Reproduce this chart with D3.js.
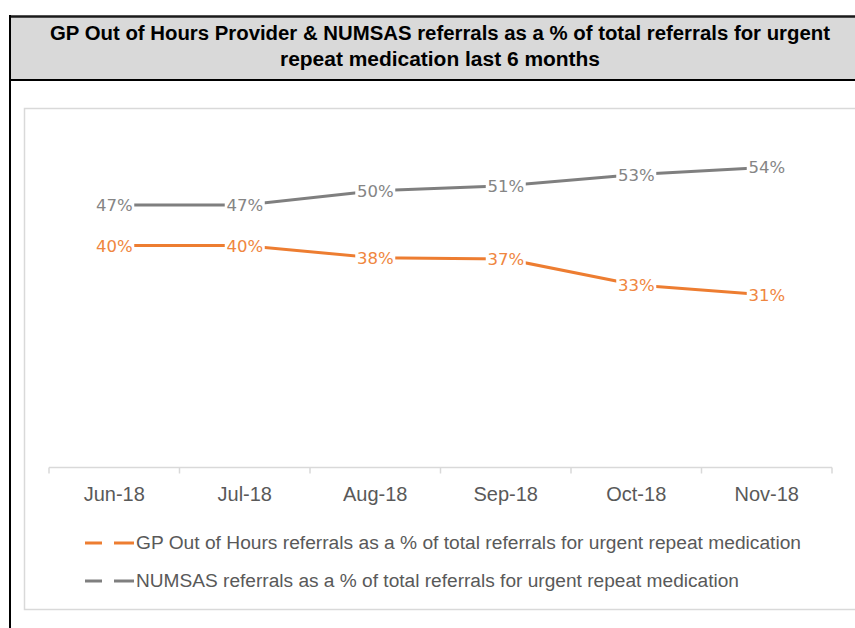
<!DOCTYPE html>
<html>
<head>
<meta charset="utf-8">
<script src="https://cdn.jsdelivr.net/npm/d3@7/dist/d3.min.js"></script>
<style>
  body { margin: 0; background: #fff; }
  svg { display: block; }
</style>
</head>
<body>
<svg id="chart" width="855" height="628"></svg>
<script>
// chart data
const titleLines = [
  "GP Out of Hours Provider & NUMSAS referrals as a % of total referrals for urgent",
  "repeat medication last 6 months"
];
const months = ["Jun-18", "Jul-18", "Aug-18", "Sep-18", "Oct-18", "Nov-18"];
const gpValues = [0.398, 0.398, 0.376, 0.374, 0.327, 0.309];
const numsasValues = [0.471, 0.471, 0.497, 0.506, 0.526, 0.539];
const seriesNames = [
  "GP Out of Hours referrals as a % of total referrals for urgent repeat medication",
  "NUMSAS referrals as a % of total referrals for urgent repeat medication"
];

const svg = d3.select("#chart");

// header box
svg.append("rect")
  .attr("x", 10).attr("y", 16)
  .attr("width", 850).attr("height", 64)
  .style("fill", "#d9d9d9");
svg.append("line")
  .attr("x1", 9).attr("x2", 855).attr("y1", 16.5).attr("y2", 16.5)
  .style("stroke", "#1a1a1a").style("stroke-width", 2.5);
svg.append("line")
  .attr("x1", 9).attr("x2", 855).attr("y1", 80).attr("y2", 80)
  .style("stroke", "#000").style("stroke-width", 2);
svg.append("line")
  .attr("x1", 10).attr("x2", 10).attr("y1", 15).attr("y2", 628)
  .style("stroke", "#000").style("stroke-width", 2);

const titleWidths = [780, 320];
svg.selectAll(".title")
  .data(titleLines)
  .enter().append("text")
  .attr("class", "title")
  .attr("x", 440)
  .attr("y", (d, i) => 40 + i * 26)
  .attr("text-anchor", "middle")
  .attr("textLength", (d, i) => titleWidths[i])
  .attr("lengthAdjust", "spacingAndGlyphs")
  .style("font-family", "'Liberation Sans Narrow', 'Liberation Sans', Arial, sans-serif")
  .style("font-weight", "bold")
  .style("font-size", "19.5px")
  .style("fill", "#000")
  .text(d => d);

// chart area box
svg.append("rect")
  .attr("x", 24.5).attr("y", 108.5)
  .attr("width", 840).attr("height", 501)
  .style("fill", "#fff")
  .style("stroke", "#d9d9d9")
  .style("stroke-width", 1.5);

// scales
const x = d3.scaleBand().domain(months).range([49, 832]);
const y = d3.scaleLinear().domain([0, 0.6]).range([466.5, 133.5]);
const cx = d => x(d) + x.bandwidth() / 2;

// x axis
const axisY = 467.5;
svg.append("line")
  .attr("x1", 49).attr("x2", 832).attr("y1", axisY).attr("y2", axisY)
  .style("stroke", "#d9d9d9").style("stroke-width", 1.5);
const edges = months.map(m => x(m)).concat([x(months[months.length - 1]) + x.bandwidth()]);
svg.selectAll(".tick-mark")
  .data(edges)
  .enter().append("line")
  .attr("class", "tick-mark")
  .attr("x1", d => d).attr("x2", d => d)
  .attr("y1", axisY).attr("y2", axisY + 6)
  .style("stroke", "#d9d9d9").style("stroke-width", 1.5);

const xAxis = d3.axisBottom(x).tickSize(0).tickPadding(0);
const gx = svg.append("g")
  .attr("transform", "translate(0,487)")
  .call(xAxis);
gx.select(".domain").remove();
gx.selectAll("text")
  .attr("dy", "0.71em")
  .style("font-family", "'Liberation Sans', Arial, sans-serif")
  .style("font-size", "20px")
  .style("fill", "#595959");

// lines
const series = [
  { name: seriesNames[0], values: gpValues, color: "#ED7D31", label: "#EF8640" },
  { name: seriesNames[1], values: numsasValues, color: "#7F7F7F", label: "#858585" }
];

const line = d3.line()
  .x((d, i) => cx(months[i]))
  .y(d => y(d));

series.forEach(s => {
  svg.append("path")
    .datum(s.values)
    .attr("d", line)
    .style("fill", "none")
    .style("stroke", s.color)
    .style("stroke-width", 3)
    .style("stroke-linejoin", "round");
});

// data labels
const fmt = d3.format(".0%");
series.forEach(s => {
  const g = svg.append("g");
  s.values.forEach((v, i) => {
    const lg = g.append("g")
      .attr("transform", "translate(" + cx(months[i]) + "," + y(v) + ")");
    lg.append("rect")
      .attr("x", -20).attr("y", -10)
      .attr("width", 40).attr("height", 20)
      .style("fill", "#fff");
    lg.append("text")
      .attr("text-anchor", "middle")
      .attr("dy", "0.36em")
      .style("font-family", "'DejaVu Sans', Verdana, sans-serif")
      .style("font-size", "16.5px")
      .style("fill", s.label)
      .text(fmt(v));
  });
});

// legend
const legendY = [543, 581];
const legendWidths = [665, 603];
series.forEach((s, i) => {
  const lg = svg.append("g").attr("transform", "translate(0," + legendY[i] + ")");
  lg.append("line")
    .attr("x1", 85).attr("x2", 102).attr("y1", 0).attr("y2", 0)
    .style("stroke", s.color).style("stroke-width", 3);
  lg.append("line")
    .attr("x1", 114).attr("x2", 134).attr("y1", 0).attr("y2", 0)
    .style("stroke", s.color).style("stroke-width", 3);
  lg.append("text")
    .attr("x", 136)
    .attr("dy", "0.36em")
    .attr("textLength", legendWidths[i])
    .attr("lengthAdjust", "spacingAndGlyphs")
    .style("font-family", "'Liberation Sans', Arial, sans-serif")
    .style("font-size", "18px")
    .style("fill", "#595959")
    .text(s.name);
});
</script>
</body>
</html>
